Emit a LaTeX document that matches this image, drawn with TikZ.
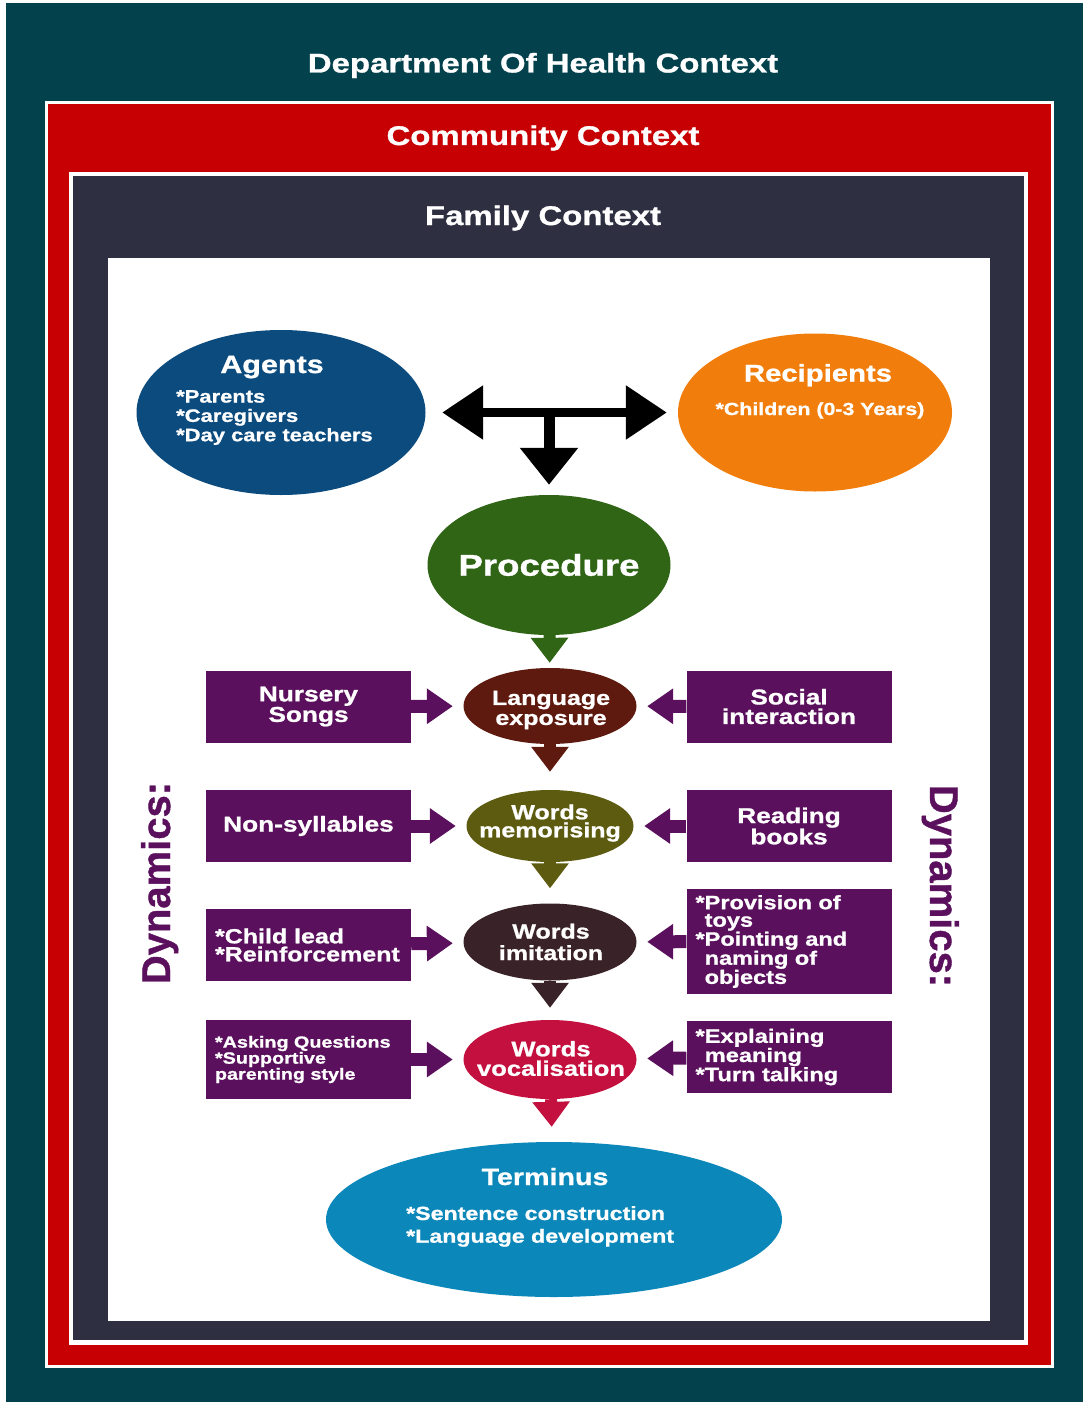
\documentclass[tikz,border=0pt]{standalone}
\usepackage{fontspec}
\setmainfont{Liberation Sans}
\newfontfamily\hv{Liberation Sans}[FakeStretch=1.22,FakeBold=1]
\newfontfamily\hvn{Liberation Sans}[FakeBold=1]
\usetikzlibrary{shapes.geometric,arrows.meta}
\definecolor{cTeal}{HTML}{03424D}
\definecolor{cRed}{HTML}{C60003}
\definecolor{cNavy}{HTML}{2E2F40}
\definecolor{cBlue}{HTML}{0C4B7E}
\definecolor{cOrange}{HTML}{F17E0C}
\definecolor{cGreen}{HTML}{2F6515}
\definecolor{cPurple}{HTML}{5B105D}
\definecolor{cBrown}{HTML}{5E1A0E}
\definecolor{cOlive}{HTML}{5D5B10}
\definecolor{cDark}{HTML}{3A2328}
\definecolor{cCrimson}{HTML}{C3103E}
\definecolor{cCyan}{HTML}{0B87B9}
\newcommand\fs[2]{\hv\bfseries\fontsize{#1}{#2}\selectfont}
\begin{document}
\begin{tikzpicture}[x=1pt,y=-1pt,
  title/.style={text=white, inner sep=0pt, anchor=base, font=\fs{27}{30}},
  ell/.style={ellipse, inner sep=0pt},
  etxt/.style={text=white, inner sep=0pt},
  mtxt/.style={text=white, inner sep=0pt, align=center},
  mid/.style={ell, minimum width=173pt, minimum height=76pt},
  pbox/.style={rectangle, fill=cPurple, text=white, minimum width=205pt, minimum height=72pt, inner sep=0pt},
  lbox/.style={pbox, align=left, text width=187pt, inner xsep=9pt},
  cbox/.style={pbox, align=center},
  blk/.style={draw=black, line width=9pt, {Triangle[width=52pt,length=41pt]}-{Triangle[width=52pt,length=41pt]}},
  blkdown/.style={draw=black, line width=11pt, -{Triangle[width=56pt,length=37pt]}},
  downarr/.style={line width=12pt, -{Triangle[width=36pt,length=25pt]}},
  sidearr/.style={draw=cPurple, line width=13pt, -{Triangle[width=34pt,length=26pt]}},
  dyn/.style={text=cPurple, inner sep=0pt, anchor=base, font=\hvn\bfseries\fontsize{40}{44}\selectfont}
]
\useasboundingbox (0,0) rectangle (1083,1402);
\fill[white] (0,0) rectangle (1083,1402);
\fill[cTeal] (6,3) rectangle (1083,1402);
\fill[white] (45,101) rectangle (1054,1368);
\fill[cRed] (48,104) rectangle (1051,1365);
\fill[white] (69,172) rectangle (1028,1345);
\fill[cNavy] (73,176) rectangle (1024,1340);
\fill[white] (108,258) rectangle (990,1321);

\node[title] (dept) at (543,72.5) {Department Of Health Context};
\node[title] (comm) at (543,145) {Community Context};
\node[title] (fam) at (543,225) {Family Context};

% top ellipses
\node[ell, fill=cBlue, minimum width=289pt, minimum height=165pt] (agents) at (281,412.5) {};
\node[etxt, anchor=base, font=\fs{25}{28}] (agentsT) at (272,373) {Agents};
\node[etxt, anchor=north west, align=left, font=\fs{18}{19.3}] (agentsL) at (176,390) {*Parents\\{*}Caregivers\\{*}Day care teachers};

\node[ell, fill=cOrange, minimum width=274pt, minimum height=158pt] (recip) at (815,412.5) {};
\node[etxt, anchor=base, font=\fs{24}{27}] (recipT) at (818,381.5) {Recipients};
\node[etxt, anchor=base, font=\fs{17.5}{20}] (recipL) at (820,415) {*Children (0-3 Years)};

\node[ell, fill=cGreen, minimum width=243pt, minimum height=140pt] (proc) at (549,565) {};
\node[etxt, font=\fs{30}{33}] (procT) at (549,565) {Procedure};

\coordinate (hub) at (549,412.5);
\draw[blk, shorten <=16.5pt, shorten >=11pt] (agents) -- (recip);
\draw[blkdown, shorten >=10pt] (hub) -- (proc);

% chain
\node[mid, fill=cBrown] (lang) at (550,706) {};
\node[mtxt, font=\fs{20.5}{20}] (langT) at (551,710) {Language\\exposure};
\node[mid, fill=cOlive, minimum width=167pt, minimum height=72pt] (mem) at (550,826) {};
\node[mtxt, font=\fs{20.5}{18}] (memT) at (550,823) {Words\\memorising};
\node[mid, fill=cDark, minimum height=77pt] (imit) at (550,942) {};
\node[mtxt, font=\fs{20.5}{21.5}] (imitT) at (551,942) {Words\\imitation};
\node[mid, fill=cCrimson, minimum height=79pt] (voc) at (550,1059.5) {};
\node[mtxt, font=\fs{21}{19.5}] (vocT) at (551,1058.5) {Words\\vocalisation};
\node[ell, fill=cCyan, minimum width=456pt, minimum height=155pt] (term) at (554,1219.5) {};
\node[etxt, anchor=base, font=\fs{23.5}{26}] (termT) at (545,1185) {Terminus};
\node[etxt, anchor=north west, align=left, font=\fs{19}{22.7}] (termL) at (406,1206) {*Sentence construction\\{*}Language development};

\draw[downarr, draw=cGreen, shorten >=5pt] (proc) -- (lang);
\draw[downarr, draw=cBrown, shorten >=18pt] (lang) -- (mem);
\draw[downarr, draw=cOlive, shorten >=15pt] (mem) -- (imit);
\draw[downarr, draw=cDark, shorten >=12pt] (imit) -- (voc);
\draw[downarr, draw=cCrimson, shorten >=15pt] (voc) -- (term);

% side boxes
\node[cbox, font=\fs{21.5}{16.5}] (nurs) at (308.5,706.5) {Nursery\\Songs};
\node[cbox, font=\fs{21.5}{19.5}] (soc) at (789,706.5) {Social\\interaction};
\node[cbox, font=\fs{21.5}{18}] (nons) at (308.5,826) {Non-syllables};
\node[cbox, font=\fs{21.5}{18.5}] (read) at (789,826) {Reading\\books};
\node[lbox, font=\fs{20.5}{18}] (child) at (308.5,945) {*Child lead\\{*}Reinforcement};
\node[lbox, minimum height=105pt, font=\fs{19.3}{17.5}] (prov) at (789,941.5) {*Provision of\\\hphantom{*}toys\\{*}Pointing and\\\hphantom{*}naming of\\\hphantom{*}objects};
\node[lbox, minimum height=79pt, font=\fs{16.2}{16}] (ask) at (308.5,1059.5) {*Asking Questions\\{*}Supportive\\parenting style};
\node[lbox, font=\fs{19.4}{17}] (expl) at (789,1057) {*Explaining\\\hphantom{*}meaning\\{*}Turn talking};

\draw[sidearr, shorten >=10.5pt] (nurs) -- (lang);
\draw[sidearr, shorten >=10.5pt] (soc) -- (lang);
\draw[sidearr, shorten >=10.5pt] (nons) -- (mem);
\draw[sidearr, shorten >=10.5pt] (read) -- (mem);
\draw[sidearr, shorten >=10.5pt] (child) -- (imit);
\draw[sidearr, shorten >=10.5pt] (prov) -- (imit);
\draw[sidearr, shorten >=10.5pt] (ask) -- (voc);
\draw[sidearr, shorten >=10.5pt] (expl) -- (voc);

\node[dyn, rotate=90] (dynL) at (170,883) {Dynamics:};
\node[dyn, rotate=-90] (dynR) at (930,886) {Dynamics:};
\end{tikzpicture}
\end{document}
